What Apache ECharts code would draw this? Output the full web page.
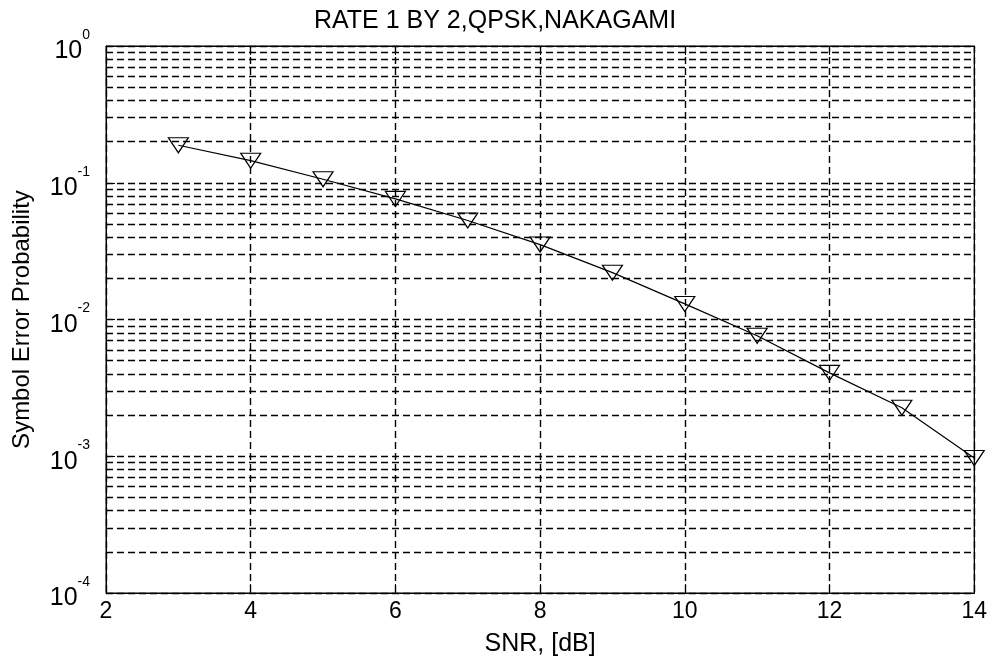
<!DOCTYPE html>
<html>
<head>
<meta charset="utf-8">
<title>RATE 1 BY 2,QPSK,NAKAGAMI</title>
<script src="https://cdn.jsdelivr.net/npm/echarts@6/dist/echarts.min.js"></script>
<style>
  html, body { margin: 0; padding: 0; background: #fff; }
  #chart { width: 990px; height: 663px; }
</style>
</head>
<body>
<div id="chart"></div>
<script>
// SNR points (dB) and measured symbol error probability
const snrDb = [3, 4, 5, 6, 7, 8, 9, 10, 11, 12, 13, 14];
const symbolErrorProb = [0.188, 0.145, 0.106, 0.0762, 0.053, 0.0353, 0.022, 0.013, 0.0076, 0.00407, 0.00226, 0.00097];

// axis ranges and tick settings
const xRange = [2, 14];
const xStep = 2;
const yRange = [1e-4, 1];
// decade exponents and mantissas for the minor log grid
const decades = [-4, -3, -2, -1];
const minorMantissas = [2, 3, 4, 5, 6, 7, 8, 9];

const FONT = '"Liberation Sans", Arial, Helvetica, sans-serif';
const dash = [7, 4];
const gridWidth = 1.4;

const minorGrid = [];
decades.forEach(function (e) {
  minorMantissas.forEach(function (m) {
    minorGrid.push({ yAxis: m * Math.pow(10, e) });
  });
});

const chart = echarts.init(document.getElementById('chart'), null, { renderer: 'canvas' });

const powLabel = function (v) {
  const e = Math.round(Math.log10(v));
  return '{b|10}{e|' + e + '}';
};

chart.setOption({
  animation: false,
  backgroundColor: '#fff',
  title: {
    text: 'RATE 1 BY 2,QPSK,NAKAGAMI',
    left: 'center',
    top: 4,
    textStyle: { fontFamily: FONT, fontSize: 25, fontWeight: 'normal', color: '#000' }
  },
  grid: {
    left: 106, right: 15, top: 46, bottom: 70,
    show: true, borderColor: '#000', borderWidth: 1, backgroundColor: 'transparent'
  },
  xAxis: [{
    type: 'value',
    min: xRange[0], max: xRange[1], interval: xStep,
    position: 'bottom',
    name: 'SNR, [dB]',
    nameLocation: 'middle',
    nameGap: 39,
    nameTextStyle: { fontFamily: FONT, fontSize: 25, color: '#000' },
    axisLine: { show: true, lineStyle: { color: '#000', width: 1 } },
    axisTick: { show: true, inside: true, length: 9, lineStyle: { color: '#000' } },
    axisLabel: { fontFamily: FONT, fontSize: 23, color: '#000', margin: 7 },
    splitLine: { show: true, lineStyle: { color: '#000', width: gridWidth, type: dash } }
  }, {
    type: 'value',
    min: xRange[0], max: xRange[1], interval: xStep,
    position: 'top',
    axisLine: { show: true, lineStyle: { color: '#000', width: 1 } },
    axisTick: { show: true, inside: true, length: 9, lineStyle: { color: '#000' } },
    axisLabel: { show: false },
    splitLine: { show: false }
  }],
  yAxis: [{
    type: 'log',
    logBase: 10,
    min: yRange[0], max: yRange[1],
    position: 'left',
    name: 'Symbol Error Probability',
    nameLocation: 'middle',
    nameGap: 72,
    nameTextStyle: { fontFamily: FONT, fontSize: 24, color: '#000' },
    axisLine: { show: true, lineStyle: { color: '#000', width: 1 } },
    axisTick: { show: true, inside: true, length: 9, lineStyle: { color: '#000' } },
    axisLabel: {
      margin: 16,
      formatter: powLabel,
      rich: {
        b: { fontFamily: FONT, fontSize: 25, color: '#000', lineHeight: 36, verticalAlign: 'bottom' },
        e: { fontFamily: FONT, fontSize: 14, color: '#000', lineHeight: 10, verticalAlign: 'top' }
      }
    },
    splitLine: { show: true, lineStyle: { color: '#000', width: gridWidth, type: dash } }
  }, {
    type: 'log',
    logBase: 10,
    min: yRange[0], max: yRange[1],
    position: 'right',
    axisLine: { show: true, lineStyle: { color: '#000', width: 1 } },
    axisTick: { show: true, inside: true, length: 9, lineStyle: { color: '#000' } },
    axisLabel: { show: false },
    splitLine: { show: false }
  }],
  series: [{
    type: 'line',
    xAxisIndex: 0,
    yAxisIndex: 0,
    data: snrDb.map(function (x, i) { return [x, symbolErrorProb[i]]; }),
    symbol: 'triangle',
    symbolRotate: 180,
    symbolSize: [20, 15],
    showAllSymbol: true,
    lineStyle: { color: '#000', width: 1.2 },
    itemStyle: { color: 'rgba(0,0,0,0)', borderColor: '#000', borderWidth: 1.2 },
    emphasis: { disabled: true },
    silent: true,
    z: 5,
    markLine: {
      silent: true,
      symbol: 'none',
      precision: 10,
      label: { show: false },
      lineStyle: { color: '#000', width: gridWidth, type: dash },
      emphasis: { disabled: true },
      data: minorGrid
    }
  }]
});
</script>
</body>
</html>
